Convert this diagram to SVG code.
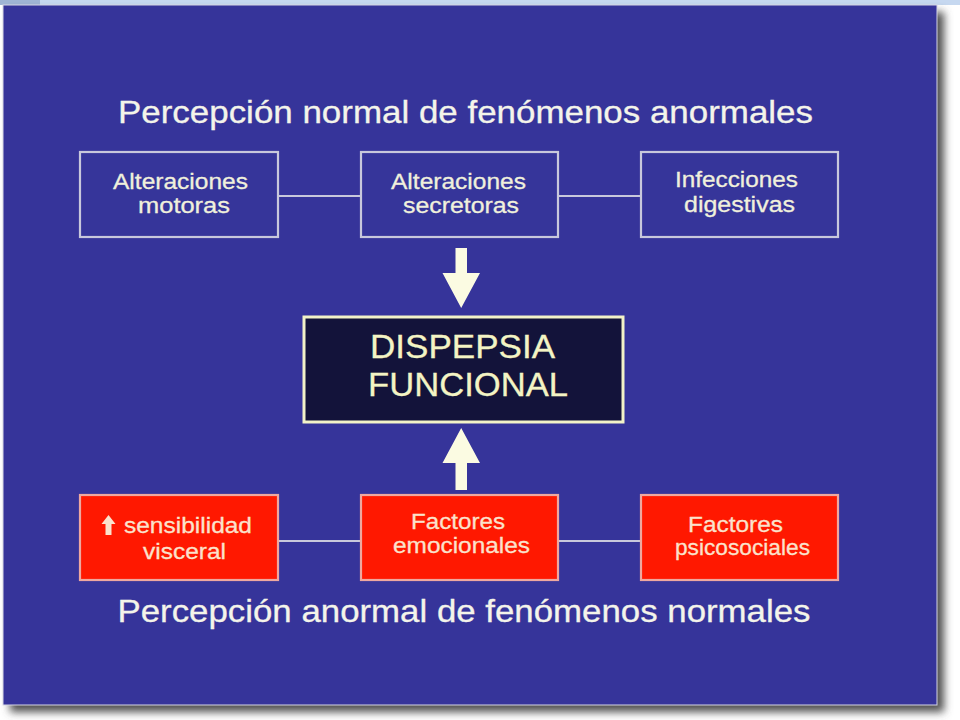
<svg xmlns="http://www.w3.org/2000/svg" width="960" height="720" viewBox="0 0 960 720">
<defs>
<filter id="sh" x="-5%" y="-5%" width="110%" height="110%"><feGaussianBlur stdDeviation="4"/></filter>
<style>
.ttl{font-family:"Liberation Sans",Arial,sans-serif;font-size:32px;fill:#f4f4ea;text-anchor:middle;stroke:#f4f4ea;stroke-width:0.3}
.bt{font-family:"Liberation Sans",Arial,sans-serif;font-size:22.5px;fill:#f0f0dc;text-anchor:middle;stroke:#f0f0dc;stroke-width:0.3}
.rt{font-family:"Liberation Sans",Arial,sans-serif;font-size:22.5px;fill:#fbe2cc;text-anchor:middle;stroke:#fbe2cc;stroke-width:0.3}
.dt{font-family:"Liberation Sans",Arial,sans-serif;font-size:34px;fill:#f4f4c4;text-anchor:middle;stroke:#f4f4c4;stroke-width:0.3}
.bb{fill:#36359a;stroke:#c8c8dc;stroke-width:2.2}
.rb{fill:#ff1800;stroke:#eea8a0;stroke-width:2.2}
.ln{stroke:#c8c8dc;stroke-width:2.2;fill:none}
.ar{fill:#fbfbe2}
</style>
</defs>
<rect x="0" y="0" width="960" height="720" fill="#ffffff"/>
<rect x="0" y="0" width="960" height="5" fill="#c6d8f0"/>
<rect x="0" y="0" width="40" height="5" fill="#9fb4d4"/>
<rect x="10" y="12" width="934" height="700" fill="#505050" filter="url(#sh)"/>
<rect x="3" y="5" width="934" height="700" fill="#36349a" stroke="#d6d6e4" stroke-width="1"/>

<text class="ttl" x="465.5" y="123" textLength="695" lengthAdjust="spacingAndGlyphs">Percepción normal de fenómenos anormales</text>
<text class="ttl" x="464" y="622" textLength="693" lengthAdjust="spacingAndGlyphs">Percepción anormal de fenómenos normales</text>

<g id="connectors">
<line class="ln" x1="278" y1="196" x2="361" y2="196"/>
<line class="ln" x1="558" y1="196" x2="641" y2="196"/>
<line class="ln" x1="278" y1="541" x2="361" y2="541"/>
<line class="ln" x1="558" y1="541" x2="641" y2="541"/>
<polygon class="ar" points="455.5,248 467,248 467,273 480,273 461.2,308 442.5,273 455.5,273"/>
<polygon class="ar" points="461.2,428 480,463 467,463 467,490 455.5,490 455.5,463 442.5,463"/>
</g>

<g id="n-motoras">
<rect class="bb" x="80" y="152" width="198" height="85"/>
<text class="bt" x="180.5" y="189" textLength="135" lengthAdjust="spacingAndGlyphs">Alteraciones</text>
<text class="bt" x="184" y="213" textLength="92" lengthAdjust="spacingAndGlyphs">motoras</text>
</g>
<g id="n-secretoras">
<rect class="bb" x="361" y="152" width="197" height="85"/>
<text class="bt" x="458.5" y="189" textLength="135" lengthAdjust="spacingAndGlyphs">Alteraciones</text>
<text class="bt" x="461" y="213" textLength="116" lengthAdjust="spacingAndGlyphs">secretoras</text>
</g>
<g id="n-infecciones">
<rect class="bb" x="641" y="152" width="197" height="85"/>
<text class="bt" x="736.5" y="187" textLength="123" lengthAdjust="spacingAndGlyphs">Infecciones</text>
<text class="bt" x="739.5" y="212" textLength="111" lengthAdjust="spacingAndGlyphs">digestivas</text>
</g>

<g id="n-dispepsia">
<rect x="304" y="317" width="319" height="105" fill="#13133a" stroke="#f2f2c8" stroke-width="3"/>
<text class="dt" x="462.5" y="357.5" textLength="185" lengthAdjust="spacingAndGlyphs">DISPEPSIA</text>
<text class="dt" x="468" y="395.5" textLength="200" lengthAdjust="spacingAndGlyphs">FUNCIONAL</text>
</g>

<g id="n-sensibilidad">
<rect class="rb" x="80" y="495" width="198" height="85"/>
<polygon points="108.5,515 115.5,524 111.5,524 111.5,535 105.5,535 105.5,524 101.5,524" fill="#fbe2cc"/>
<text class="rt" x="188" y="533" textLength="128" lengthAdjust="spacingAndGlyphs">sensibilidad</text>
<text class="rt" x="184.5" y="559" textLength="83" lengthAdjust="spacingAndGlyphs">visceral</text>
</g>
<g id="n-emocionales">
<rect class="rb" x="361" y="495" width="197" height="85"/>
<text class="rt" x="458" y="529" textLength="94" lengthAdjust="spacingAndGlyphs">Factores</text>
<text class="rt" x="461.5" y="553" textLength="137" lengthAdjust="spacingAndGlyphs">emocionales</text>
</g>
<g id="n-psicosociales">
<rect class="rb" x="641" y="495" width="197" height="85"/>
<text class="rt" x="735.5" y="532" textLength="95" lengthAdjust="spacingAndGlyphs">Factores</text>
<text class="rt" x="742.5" y="555" textLength="135" lengthAdjust="spacingAndGlyphs">psicosociales</text>
</g>
</svg>
